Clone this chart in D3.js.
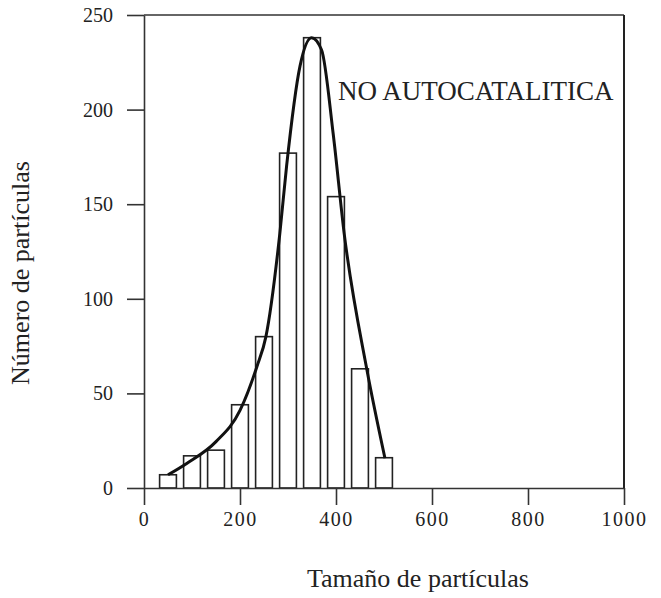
<!DOCTYPE html>
<html>
<head>
<meta charset="utf-8">
<script src="https://cdn.jsdelivr.net/npm/d3@7"></script>
<style>
  body { margin: 0; background: #fff; }
  text { font-family: "Liberation Serif", "Times New Roman", serif; fill: #222; }
</style>
</head>
<body>
<svg id="chart" width="661" height="598"></svg>
<script>
// histogram bins (centre of bin, particle count)
var binCenters = [50, 100, 150, 200, 250, 300, 350, 400, 450, 500]
var binCounts = [7, 17, 20, 44, 80, 177, 238, 154, 63, 16]
var binWidth = 35

// fitted curve
var curveX = [50, 89, 150, 200, 235, 254, 283, 297, 325, 349, 370, 394, 417, 464, 502]
var curveY = [7, 13, 24.5, 41, 64, 80, 134.6, 170, 223, 238, 231.5, 187.5, 134.6, 63, 15.7]

var xTicks = [0, 200, 400, 600, 800, 1000]
var yTicks = [0, 50, 100, 150, 200, 250]

var svg = d3.select("#chart")

var x = d3.scaleLinear().domain([0, 1000]).range([144, 624])
var y = d3.scaleLinear().domain([0, 250]).range([488, 15])

// bars
svg.selectAll("rect.bar")
    .data(binCenters)
    .enter()
    .append("rect")
    .attr("class", "bar")
    .attr("x", function(d) { return x(d - binWidth / 2) })
    .attr("y", function(d, i) { return y(binCounts[i]) })
    .attr("width", x(binWidth) - x(0))
    .attr("height", function(d, i) { return y(0) - y(binCounts[i]) })
    .attr("fill", "none")
    .attr("stroke", "#222")
    .attr("stroke-width", 1.6)

// axes
var yAxis = d3.axisLeft(y).tickValues(yTicks).tickSize(17).tickSizeOuter(0).tickPadding(14)
var xAxis = d3.axisBottom(x).tickValues(xTicks).tickSize(17).tickSizeOuter(0).tickPadding(7)
    .tickFormat(d3.format("d"))

var gy = svg.append("g").attr("transform", "translate(" + x(0) + ",0)").call(yAxis)
var gx = svg.append("g").attr("transform", "translate(0," + y(0) + ")").call(xAxis)

gy.selectAll("text").style("font-size", "20px")
gx.selectAll("text").style("font-size", "20px").style("letter-spacing", "1.5px")
svg.selectAll(".domain, .tick line").attr("stroke", "#333").attr("stroke-width", 1.6)

// frame on top and right
svg.append("line")
    .attr("x1", x(0)).attr("x2", x(1000))
    .attr("y1", y(250)).attr("y2", y(250))
    .attr("stroke", "#333").attr("stroke-width", 1.6)
svg.append("line")
    .attr("x1", x(1000)).attr("x2", x(1000))
    .attr("y1", y(250)).attr("y2", y(0))
    .attr("stroke", "#222").attr("stroke-width", 2)

// fitted curve
var line = d3.line()
    .x(function(d) { return x(d[0]) })
    .y(function(d) { return y(d[1]) })
    .curve(d3.curveMonotoneX)

svg.append("path")
    .datum(d3.zip(curveX, curveY))
    .attr("d", line)
    .attr("fill", "none")
    .attr("stroke", "#111")
    .attr("stroke-width", 3)

// labels
svg.append("text")
    .attr("x", 338).attr("y", 100)
    .style("font-size", "27px")
    .text("NO AUTOCATALITICA")

svg.append("text")
    .attr("x", 418).attr("y", 587)
    .attr("text-anchor", "middle")
    .style("font-size", "26px")
    .text("Tamaño de partículas")

svg.append("text")
    .attr("transform", "translate(29,273) rotate(-90)")
    .attr("text-anchor", "middle")
    .style("font-size", "26px")
    .text("Número de partículas")
</script>
</body>
</html>
